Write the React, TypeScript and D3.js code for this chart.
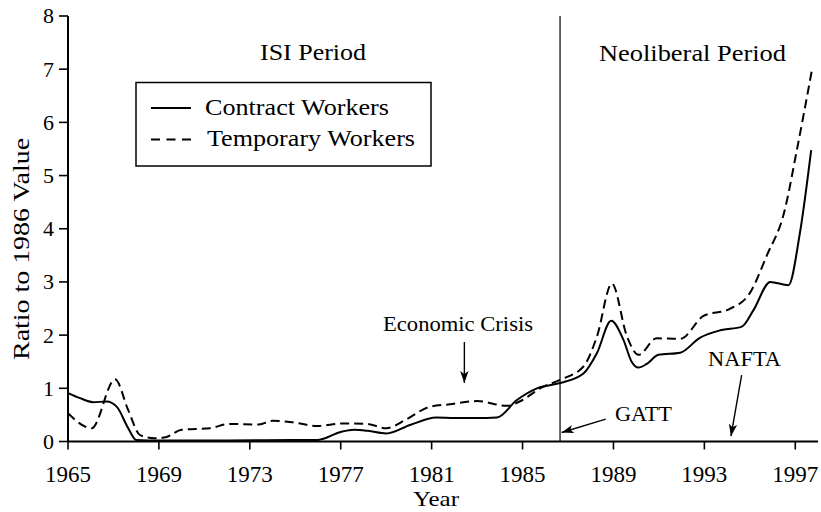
import React from "react";
import * as d3 from "d3";

const contractYears = [1965.0, 1965.5, 1966.1, 1966.7, 1967.15, 1967.65, 1968.0, 1969.0, 1972.0, 1975.0, 1976.0, 1977.0, 1977.6, 1978.2, 1979.0, 1980.05, 1981.2, 1982.0, 1983.0, 1983.87, 1984.75, 1985.63, 1986.65, 1987.68, 1988.27, 1988.9, 1989.44, 1989.8, 1990.1, 1990.47, 1990.98, 1991.94, 1992.8, 1993.7, 1994.65, 1995.16, 1995.9, 1996.7, 1997.2, 1997.7];
const contractValues = [0.91, 0.82, 0.74, 0.75, 0.65, 0.25, 0.03, 0.02, 0.02, 0.03, 0.03, 0.18, 0.22, 0.2, 0.15, 0.31, 0.45, 0.44, 0.44, 0.45, 0.78, 1.0, 1.1, 1.28, 1.66, 2.27, 1.91, 1.5, 1.39, 1.46, 1.63, 1.67, 1.95, 2.09, 2.16, 2.47, 3.0, 2.94, 3.91, 5.48];

const tempYears = [1965.0, 1966.04, 1967.07, 1967.65, 1968.17, 1968.8, 1969.3, 1970.0, 1971.25, 1972.1, 1973.4, 1974.0, 1974.9, 1975.95, 1977.1, 1978.15, 1979.0, 1979.9, 1980.9, 1981.8, 1983.0, 1984.3, 1985.0, 1985.77, 1986.65, 1987.68, 1988.27, 1988.93, 1989.6, 1990.1, 1990.9, 1991.94, 1992.96, 1994.1, 1995.0, 1995.75, 1996.5, 1997.07, 1997.73];
const tempValues = [0.53, 0.25, 1.17, 0.59, 0.12, 0.06, 0.08, 0.22, 0.25, 0.33, 0.32, 0.39, 0.36, 0.29, 0.34, 0.33, 0.25, 0.42, 0.65, 0.7, 0.76, 0.67, 0.78, 1.0, 1.16, 1.41, 1.97, 2.97, 1.97, 1.63, 1.94, 1.93, 2.36, 2.49, 2.79, 3.5, 4.29, 5.48, 6.98];

const xTicks = [1965, 1969, 1973, 1977, 1981, 1985, 1989, 1993, 1997];
const yTicks = [0, 1, 2, 3, 4, 5, 6, 7, 8];
const seriesNames = ["Contract Workers", "Temporary Workers"];
const periodBreak = 1986.65;

const FONT = '"Liberation Serif", Tinos, "Times New Roman", Times, serif';

export default function App() {
  const x = d3.scaleLinear().domain([1965, 1998]).range([68, 818]);
  const y = d3.scaleLinear().domain([0, 8]).range([441.5, 16]);
  const line = d3
    .line<[number, number]>()
    .x((d) => x(d[0]))
    .y((d) => y(d[1]))
    .curve(d3.curveMonotoneX);
  const contract: [number, number][] = contractYears.map((yr, i) => [yr, contractValues[i]]);
  const temp: [number, number][] = tempYears.map((yr, i) => [yr, tempValues[i]]);

  const x0 = x.range()[0];
  const x1 = x.range()[1];
  const yb = y(0);
  const yt = y(8);
  const ts = { fontFamily: FONT };

  return (
    <svg
      width={821}
      height={512}
      style={{ position: "absolute", left: 0, top: 0, background: "#fff", fontFamily: FONT }}
    >
      <defs>
        <marker
          id="ah"
          markerUnits="userSpaceOnUse"
          markerWidth={14}
          markerHeight={10}
          refX={12}
          refY={5}
          orient="auto"
        >
          <path d="M0,0.8 L12,5 L0,9.2 L3,5 Z" fill="#000" />
        </marker>
      </defs>

      {/* axes */}
      <line x1={x0} x2={x0} y1={yt} y2={yb} stroke="#000" strokeWidth={2} />
      <line x1={x0} x2={x1} y1={yb} y2={yb} stroke="#000" strokeWidth={2} />
      {yTicks.map((t) => (
        <g key={"y" + t}>
          <line x1={x0 - 9} x2={x0} y1={y(t)} y2={y(t)} stroke="#000" strokeWidth={1.6} />
          <text style={ts} x={x0 - 14} y={y(t)} dy="0.34em" textAnchor="end" fontSize={22}>
            {t}
          </text>
        </g>
      ))}
      {xTicks.map((t) => (
        <g key={"x" + t}>
          <line x1={x(t)} x2={x(t)} y1={yb} y2={yb + 8} stroke="#000" strokeWidth={1.6} />
          <text style={ts} x={x(t)} y={481.5} textAnchor="middle" fontSize={23}>
            {t}
          </text>
        </g>
      ))}
      <text style={ts} x={436} y={506} textAnchor="middle" fontSize={22} textLength={46} lengthAdjust="spacingAndGlyphs">
        Year
      </text>
      <text
        style={ts}
        transform="translate(29,249) rotate(-90)"
        textAnchor="middle"
        fontSize={23}
        textLength={222}
        lengthAdjust="spacingAndGlyphs"
      >
        Ratio to 1986 Value
      </text>

      {/* period divider */}
      <line x1={x(periodBreak)} x2={x(periodBreak)} y1={yt} y2={yb} stroke="#000" strokeWidth={1.2} />
      <text style={ts} x={260} y={60} fontSize={23} textLength={106} lengthAdjust="spacingAndGlyphs">
        ISI Period
      </text>
      <text style={ts} x={599} y={61} fontSize={23} textLength={187} lengthAdjust="spacingAndGlyphs">
        Neoliberal Period
      </text>

      {/* series */}
      <path d={line(contract) || ""} fill="none" stroke="#000" strokeWidth={2} />
      <path d={line(temp) || ""} fill="none" stroke="#000" strokeWidth={2} strokeDasharray="9,5" />

      {/* annotations */}
      <text style={ts} x={383} y={331} fontSize={22} textLength={150} lengthAdjust="spacingAndGlyphs">
        Economic Crisis
      </text>
      <line
        x1={x(1982.44)}
        x2={x(1982.44)}
        y1={y(1.87)}
        y2={y(1.1)}
        stroke="#000"
        strokeWidth={1.4}
        markerEnd="url(#ah)"
      />
      <text style={ts} x={615} y={421} fontSize={22} textLength={57} lengthAdjust="spacingAndGlyphs">
        GATT
      </text>
      <line
        x1={x(1988.66)}
        x2={x(1986.72)}
        y1={y(0.42)}
        y2={y(0.17)}
        stroke="#000"
        strokeWidth={1.4}
        markerEnd="url(#ah)"
      />
      <text style={ts} x={708} y={366} fontSize={22} textLength={73} lengthAdjust="spacingAndGlyphs">
        NAFTA
      </text>
      <line
        x1={x(1994.64)}
        x2={x(1994.17)}
        y1={y(1.25)}
        y2={y(0.1)}
        stroke="#000"
        strokeWidth={1.4}
        markerEnd="url(#ah)"
      />

      {/* legend */}
      <rect x={136} y={82.5} width={295} height={83.5} fill="#fff" stroke="#000" strokeWidth={1.5} />
      <line x1={151} x2={191} y1={108} y2={108} stroke="#000" strokeWidth={2} />
      <text style={ts} x={205} y={114.5} fontSize={23} textLength={184} lengthAdjust="spacingAndGlyphs">
        {seriesNames[0]}
      </text>
      <line x1={151} x2={191} y1={139.5} y2={139.5} stroke="#000" strokeWidth={2} strokeDasharray="9,6.5" />
      <text style={ts} x={207} y={146} fontSize={23} textLength={208} lengthAdjust="spacingAndGlyphs">
        {seriesNames[1]}
      </text>
    </svg>
  );
}
